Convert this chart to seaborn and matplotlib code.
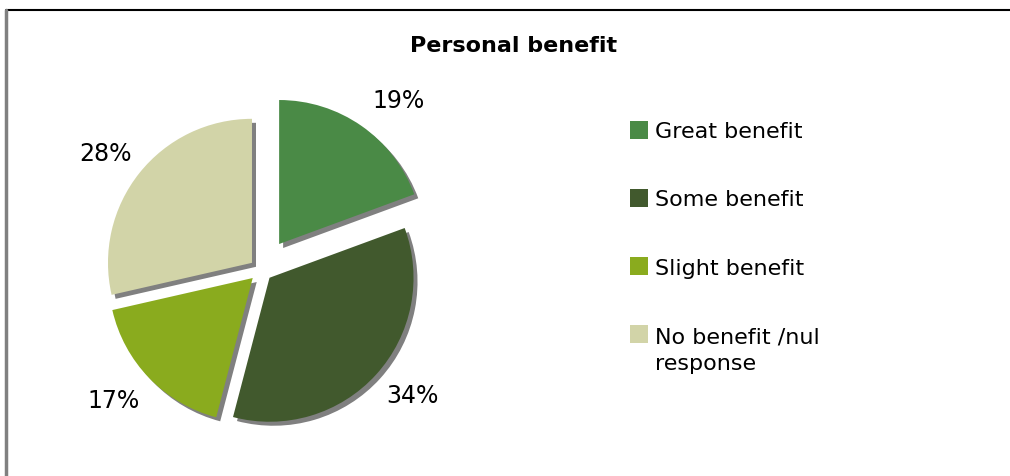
import numpy as np
import matplotlib.pyplot as plt
import seaborn as sns
from matplotlib.patches import Rectangle

sns.set_theme(style="white")
plt.rcParams['font.family'] = ['DejaVu Sans']

# data
categories = ["Great benefit", "Some benefit", "Slight benefit", "No benefit /nul\nresponse"]
shares = [19, 34, 17, 28]
pct_labels = ["19%", "34%", "17%", "28%"]
colors = ["#4a8a46", "#41592d", "#8aab1e", "#d2d4a8"]
title = "Personal benefit"

W, H = 1010, 476
fig = plt.figure(figsize=(W / 100, H / 100), dpi=100)
ax = fig.add_axes([0, 0, 1, 1])

# axes units == pixels, y up
cx, cy, r = 261, H - 270, 144
# pie's explode is in data units, so scale by the radius
explode = [f * r for f in (0.22, 0.08, 0.08, 0.08)]

# drop shadow: same pie in grey, nudged right/down
ax.pie(shares, explode=explode, radius=r, center=(cx + 4, cy - 4),
       startangle=90, counterclock=False, colors=["#808080"] * len(shares),
       wedgeprops=dict(linewidth=0))
wedges, _, autotexts = ax.pie(shares, explode=explode, radius=r, center=(cx, cy),
                              startangle=90, counterclock=False, colors=colors,
                              autopct="%d", pctdistance=1.28,
                              wedgeprops=dict(linewidth=0),
                              textprops=dict(fontsize=17, color="black"))
# excel's "best fit" labels are not quite radial - small nudges in px
nudges = [(14, -8), (6, 6), (-7, 5), (-2, -6)]
for t, lab, (dx, dy) in zip(autotexts, pct_labels, nudges):
    t.set_text(lab)
    x, y = t.get_position()
    t.set_position((x + dx, y + dy))

ax.set_xlim(0, W)
ax.set_ylim(0, H)
ax.set_aspect("equal")
ax.axis("off")

# title
ax.text(514, H - 52, title, fontsize=16, fontweight="bold", color="black",
        ha="center", va="baseline")

# legend, drawn by hand so the swatch sits on the first text line
for i, (lab, col) in enumerate(zip(categories, colors)):
    yc = 129.5 + i * 68.3
    ax.add_patch(Rectangle((630, H - yc - 9), 18, 18, color=col, lw=0, clip_on=False))
    extra = lab.count("\n") * 27  # baseline refers to the last line
    ax.text(655, H - yc - 8.5 - extra, lab, fontsize=16, color="black",
            ha="left", va="baseline", linespacing=1.4)

# partial frame (top + left) as in the source image
ax.plot([6, W], [H - 10, H - 10], color="black", lw=1.5, clip_on=False)
ax.plot([6, 6], [0, H - 10], color="#808080", lw=2.5, clip_on=False)

fig.savefig("out.png", dpi=100)
